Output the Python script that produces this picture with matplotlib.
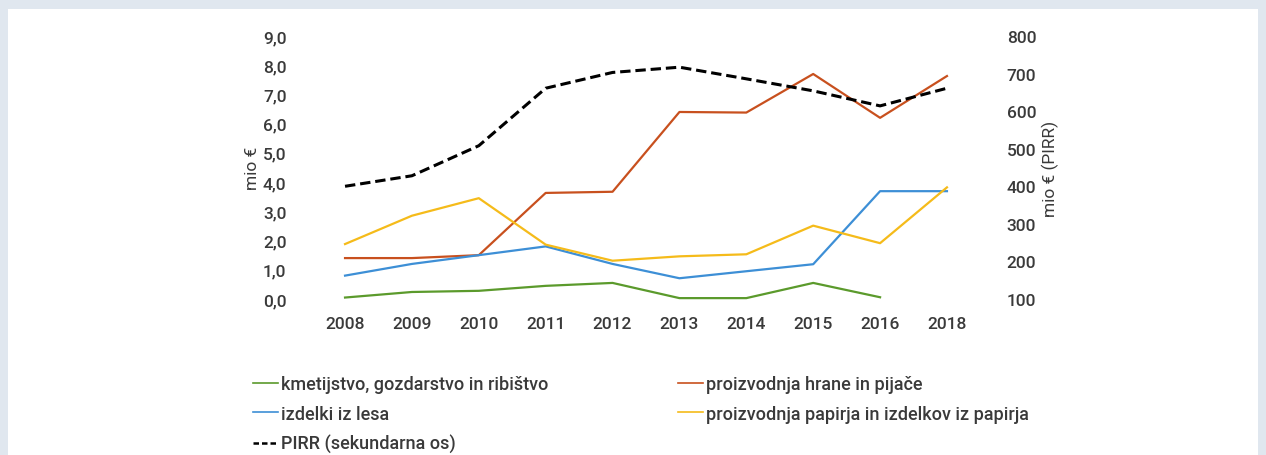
import matplotlib
matplotlib.use("Agg")
import matplotlib.pyplot as plt
from matplotlib.patches import Rectangle
from matplotlib.lines import Line2D

# podatki (odčitani z grafa)
leta = ["2008", "2009", "2010", "2011", "2012", "2013", "2014", "2015", "2016", "2018"]
kmetijstvo = [0.05, 0.24, 0.28, 0.45, 0.55, 0.03, 0.03, 0.55, 0.06]
hrana = [1.40, 1.40, 1.50, 3.63, 3.67, 6.40, 6.38, 7.70, 6.20, 7.63]
les = [0.80, 1.20, 1.50, 1.80, 1.20, 0.71, 0.95, 1.19, 3.69, 3.69]
papir = [1.88, 2.85, 3.45, 1.86, 1.31, 1.46, 1.53, 2.51, 1.91, 3.82]
pirr = [400, 428, 508, 661, 703, 717, 686, 654, 614, 661]

levi_ticki = [0, 1, 2, 3, 4, 5, 6, 7, 8, 9]
desni_ticki = [100, 200, 300, 400, 500, 600, 700, 800]

plt.rcParams["font.family"] = ["Roboto", "DejaVu Sans"]
plt.rcParams["font.weight"] = 500

c_zelena = "#5b9a2c"
c_oranzna = "#c8501e"
c_modra = "#3d8fd6"
c_rumena = "#f5bb1a"
c_tekst = "#3a3a3a"
crtkano = (0, (3.4, 1.6))

fig = plt.figure(figsize=(12.66, 4.56), dpi=100)
fig.patch.set_facecolor("#e0e7ef")
fig.patches.append(Rectangle((8 / 1266, 0), 1250 / 1266, 446 / 456,
                             transform=fig.transFigure, facecolor="white",
                             edgecolor="none", zorder=-10))

ax = fig.add_axes([311.6 / 1266, 156 / 456, 668.8 / 1266, 263 / 456])
ax.set_facecolor("none")
ax2 = ax.twinx()

x = list(range(len(leta)))
ax.plot(x[:len(kmetijstvo)], kmetijstvo, color=c_zelena, lw=1.6, clip_on=False)
ax.plot(x, hrana, color=c_oranzna, lw=1.6, clip_on=False)
ax.plot(x, les, color=c_modra, lw=1.6, clip_on=False)
ax.plot(x, papir, color=c_rumena, lw=1.6, clip_on=False)
ax2.plot(x, pirr, color="black", lw=2.2, ls=crtkano, clip_on=False)

ax.set_xlim(-0.5, len(leta) - 0.5)
ax.set_ylim(0, 9)
ax2.set_ylim(100, 800)
ax.set_xticks(x)
ax.set_xticklabels(leta)
ax.set_yticks(levi_ticki)
ax.set_yticklabels([f"{v:.1f}".replace(".", ",") for v in levi_ticki])
ax2.set_yticks(desni_ticki)

for a in (ax, ax2):
    for s in a.spines.values():
        s.set_visible(False)
    a.tick_params(length=0, labelsize=12.5, colors=c_tekst)
ax.tick_params(axis="y", pad=18)
ax.tick_params(axis="x", pad=12)
ax2.tick_params(axis="y", pad=19)

ax.set_ylabel("mio €", fontsize=12.5, color=c_tekst, labelpad=2)
ax2.set_ylabel("mio € (PIRR)", fontsize=12.5, color=c_tekst, labelpad=4)

# legenda v dveh delih
leg_kw = dict(frameon=False, fontsize=13, handlelength=1.4, handletextpad=0.15,
              labelspacing=0.64, borderpad=0, borderaxespad=0, labelcolor=c_tekst)
h1 = [Line2D([], [], color=c_zelena, lw=1.2),
      Line2D([], [], color=c_modra, lw=1.2),
      Line2D([], [], color="black", lw=1.8, ls=(0, (2.2, 1.2)))]
l1 = ["kmetijstvo, gozdarstvo in ribištvo", "izdelki iz lesa", "PIRR (sekundarna os)"]
h2 = [Line2D([], [], color=c_oranzna, lw=1.2),
      Line2D([], [], color=c_rumena, lw=1.2)]
l2 = ["proizvodnja hrane in pijače", "proizvodnja papirja in izdelkov iz papirja"]
fig.legend(h1, l1, loc="upper left", bbox_to_anchor=(253 / 1266, 1 - 376 / 456), **leg_kw)
fig.legend(h2, l2, loc="upper left", bbox_to_anchor=(678 / 1266, 1 - 376 / 456), **leg_kw)

fig.savefig("out.png", dpi=100, facecolor=fig.get_facecolor())
plt.close(fig)
